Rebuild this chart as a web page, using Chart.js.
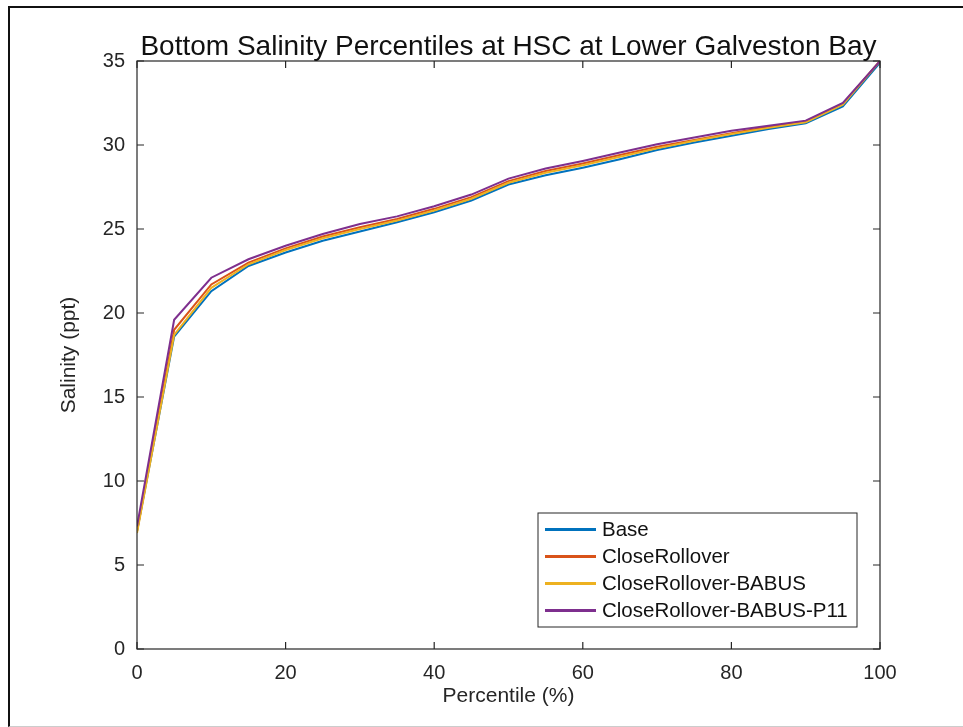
<!DOCTYPE html>
<html>
<head>
<meta charset="utf-8">
<script src="https://cdn.jsdelivr.net/npm/chart.js@4.4.1/dist/chart.umd.min.js"></script>
<style>
    html, body { margin: 0; padding: 0; background: #fff; }
    #wrap { position: relative; width: 963px; height: 727px; }
    #frame { position: absolute; left: 8px; top: 6px; right: -4px; bottom: 0; border-top: 2px solid #111; border-left: 2px solid #111; border-bottom: 1px solid #ccc; pointer-events: none; }
    canvas { position: absolute; left: 0; top: 0; }
</style>
</head>
<body>
<div id="wrap">
    <canvas id="salinityChart" width="963" height="727"></canvas>
    <div id="frame"></div>
</div>
<script>
const FONT = "'Liberation Sans', Arial, Helvetica, sans-serif"

const percentiles = [0, 5, 10, 15, 20, 25, 30, 35, 40, 45, 50, 55, 60, 65, 70, 75, 80, 85, 90, 95, 100]
const base = [7.0, 18.6, 21.3, 22.8, 23.6, 24.3, 24.85, 25.4, 26.0, 26.7, 27.65, 28.2, 28.65, 29.15, 29.7, 30.15, 30.55, 30.95, 31.3, 32.3, 34.9]
const closeRollover = [7.0, 19.0, 21.7, 23.0, 23.85, 24.55, 25.1, 25.6, 26.2, 26.9, 27.85, 28.45, 28.9, 29.4, 29.9, 30.3, 30.7, 31.08, 31.4, 32.45, 35.0]
const closeRolloverBabus = [6.9, 18.7, 21.5, 22.9, 23.75, 24.45, 25.0, 25.5, 26.1, 26.8, 27.75, 28.35, 28.8, 29.3, 29.8, 30.25, 30.65, 31.02, 31.35, 32.4, 35.0]
const closeRolloverBabusP11 = [7.3, 19.6, 22.1, 23.2, 24.0, 24.7, 25.3, 25.75, 26.35, 27.05, 28.0, 28.6, 29.05, 29.55, 30.05, 30.45, 30.85, 31.15, 31.45, 32.5, 35.0]

const seriesNames = ["Base", "CloseRollover", "CloseRollover-BABUS", "CloseRollover-BABUS-P11"]
const seriesColors = ["#0072BD", "#D95319", "#EDB120", "#7E2F8E"]
const seriesValues = [base, closeRollover, closeRolloverBabus, closeRolloverBabusP11]

const xTicks = [0, 20, 40, 60, 80, 100]
const yTicks = [0, 5, 10, 15, 20, 25, 30, 35]

const titleText = "Bottom Salinity Percentiles at HSC at Lower Galveston Bay"

const datasets = seriesValues.map((vals, i) => ({
    label: seriesNames[i],
    borderColor: seriesColors[i],
    backgroundColor: seriesColors[i],
    borderWidth: 2,
    pointRadius: 0,
    tension: 0,
    showLine: true,
    order: seriesValues.length - i,
    data: vals.map((v, j) => ({x: percentiles[j], y: v})),
}))

// MATLAB style box, inward ticks, title and legend
const matlabAxes = {
    id: 'matlabAxes',
    afterDatasetsDraw(chart) {
        const {ctx, chartArea: a, scales} = chart
        ctx.save()
        ctx.strokeStyle = "#262626"
        ctx.lineWidth = 1.2
        ctx.strokeRect(a.left, a.top, a.right - a.left, a.bottom - a.top)
        const len = 7
        ctx.beginPath()
        xTicks.forEach(t => {
            const x = scales.x.getPixelForValue(t)
            ctx.moveTo(x, a.bottom); ctx.lineTo(x, a.bottom - len)
            ctx.moveTo(x, a.top); ctx.lineTo(x, a.top + len)
        })
        yTicks.forEach(t => {
            const y = scales.y.getPixelForValue(t)
            ctx.moveTo(a.left, y); ctx.lineTo(a.left + len, y)
            ctx.moveTo(a.right, y); ctx.lineTo(a.right - len, y)
        })
        ctx.stroke()

        // title
        ctx.fillStyle = "#111"
        ctx.font = "28px " + FONT
        ctx.textAlign = "center"
        ctx.textBaseline = "alphabetic"
        ctx.fillText(titleText, (a.left + a.right) / 2, 55)

        // legend
        const boxRight = 857, boxBottom = 627, rowH = 27, boxW = 319
        const boxH = rowH * seriesNames.length + 6
        const boxLeft = boxRight - boxW, boxTop = boxBottom - boxH
        ctx.fillStyle = "#fff"
        ctx.fillRect(boxLeft, boxTop, boxW, boxH)
        ctx.strokeStyle = "#262626"
        ctx.lineWidth = 1
        ctx.strokeRect(boxLeft, boxTop, boxW, boxH)
        ctx.font = "20.5px " + FONT
        ctx.textAlign = "left"
        ctx.textBaseline = "middle"
        chart.data.datasets.forEach((ds, i) => {
            const y = boxTop + 3 + rowH * (i + 0.5)
            ctx.strokeStyle = ds.borderColor
            ctx.lineWidth = 3
            ctx.beginPath()
            ctx.moveTo(boxLeft + 7, y); ctx.lineTo(boxLeft + 58, y)
            ctx.stroke()
            ctx.fillStyle = "#111"
            ctx.fillText(ds.label, boxLeft + 64, y + 1)
        })
        ctx.restore()
    }
}

const ctx = document.getElementById("salinityChart")
const salinityChart = new Chart(ctx, {
    type: 'scatter',
    data: { datasets: datasets },
    options: {
        responsive: false,
        devicePixelRatio: 1,
        animation: false,
        layout: { padding: { left: 0, right: 83, top: 61, bottom: 0 } },
        plugins: {
            legend: { display: false },
            title: { display: false },
            tooltip: { enabled: false },
        },
        scales: {
            x: {
                type: 'linear',
                min: 0,
                max: 100,
                afterBuildTicks: s => { s.ticks = xTicks.map(v => ({value: v})) },
                afterFit: s => { s.height = 78 },
                grid: { display: false, drawTicks: false },
                border: { display: false },
                ticks: { color: "#262626", font: { family: FONT, size: 20 }, padding: 12, maxRotation: 0 },
                title: { display: true, text: "Percentile (%)", color: "#262626", font: { family: FONT, size: 21 }, padding: { top: 0, bottom: 18 } },
            },
            y: {
                type: 'linear',
                min: 0,
                max: 35,
                afterBuildTicks: s => { s.ticks = yTicks.map(v => ({value: v})) },
                afterFit: s => { s.width = 137 },
                grid: { display: false, drawTicks: false },
                border: { display: false },
                ticks: { color: "#262626", font: { family: FONT, size: 20 }, padding: 12 },
                title: { display: true, text: "Salinity (ppt)", color: "#262626", font: { family: FONT, size: 21 }, padding: { top: 57, bottom: 0 } },
            },
        },
    },
    plugins: [matlabAxes],
})
</script>
</body>
</html>
